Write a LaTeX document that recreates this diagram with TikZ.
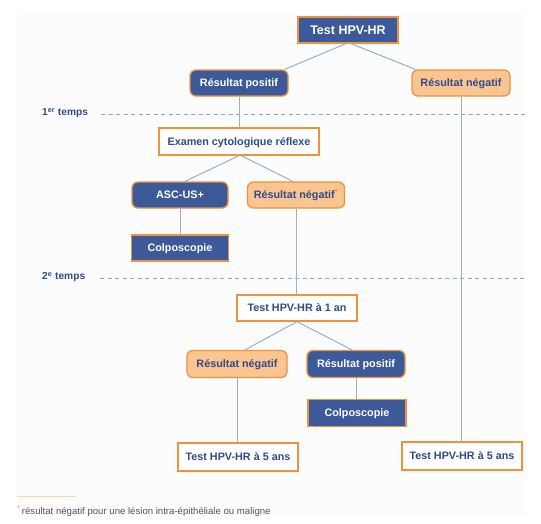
\documentclass[tikz,border=0pt]{standalone}
\usepackage{fontspec}
\setmainfont{Liberation Sans}
\usetikzlibrary{calc}
\definecolor{dblue}{HTML}{3C5A9A}
\definecolor{tblue}{HTML}{2F4C88}
\definecolor{orng}{HTML}{F0923C}
\definecolor{lorng}{HTML}{FBC591}
\definecolor{conn}{HTML}{93B1D1}
\definecolor{dash}{HTML}{8AA8C8}
\definecolor{panel}{HTML}{FCFCFC}
\definecolor{foot}{HTML}{555555}
\begin{document}
\begin{tikzpicture}[x=1pt,y=-1pt,
  base/.style={draw=orng,line width=1.3pt,font=\bfseries\fontsize{10.8}{12}\selectfont,inner sep=0pt,minimum height=26pt,align=center,text height=7.8pt,text depth=0pt},
  blueround/.style={base,fill=dblue,text=white,rounded corners=6pt},
  orround/.style={base,fill=lorng,text=tblue,rounded corners=6pt},
  bluebox/.style={base,fill=dblue,text=white},
  whitebox/.style={base,fill=white,text=tblue},
  link/.style={draw=conn,line width=1pt},
  temps/.style={draw=dash,line width=1pt,dash pattern=on 4pt off 3.5pt},
  tlabel/.style={anchor=west,text=tblue,font=\bfseries\fontsize{10.2}{12}\selectfont,inner sep=0pt}]
\useasboundingbox (0,0) rectangle (541,523);
\fill[panel] (17,14) rectangle (526,515);

% dashed time lines
\node[tlabel] (t1) at (42,113) {1\textsuperscript{er} temps};
\coordinate (t1e) at (526,114);
\draw[temps] ($(t1.east)+(13,1)$) -- (t1e);
\node[tlabel] (t2) at (42,277) {2\textsuperscript{e} temps};
\coordinate (t2e) at (526,278);
\draw[temps] ($(t2.east)+(15,1)$) -- (t2e);

% nodes
\node[bluebox,minimum width=100pt,font=\bfseries\fontsize{12.5}{14}\selectfont,text height=9pt] (top) at (348,30) {Test HPV-HR};
\node[blueround,minimum width=98pt] (pos) at (239,83) {Résultat positif};
\node[orround,minimum width=98pt] (neg) at (461,83) {Résultat négatif};
\node[whitebox,minimum width=160pt,minimum height=27pt] (exam) at (239,141.5) {Examen cytologique réflexe};
\node[blueround,minimum width=96pt] (asc) at (180,195) {ASC-US+};
\node[orround,minimum width=97pt] (negs) at (296,195) {Résultat négatif\textsuperscript{\textcolor{orng}{*}}};
\node[bluebox,minimum width=97pt] (colpo) at (180,248) {Colposcopie};
\node[whitebox,minimum width=120pt] (an1) at (297,308) {Test HPV-HR à 1 an};
\node[orround,minimum width=100pt,minimum height=27pt] (neg2) at (237,364) {Résultat négatif};
\node[blueround,minimum width=98pt,minimum height=27pt] (pos2) at (356,364) {Résultat positif};
\node[bluebox,minimum width=98pt,minimum height=27pt] (colpo2) at (357,413) {Colposcopie};
\node[whitebox,minimum width=120pt,minimum height=28pt] (ans5a) at (238,457) {Test HPV-HR à 5 ans};
\node[whitebox,minimum width=120pt,minimum height=28pt] (ans5b) at (462,456) {Test HPV-HR à 5 ans};

% connectors
\draw[link] ($(top.south)+(-2,0)$) -- ($(pos.north east)+(-4,0)$);
\draw[link] ($(top.south)+(3,0)$) -- ($(neg.north west)+(4,0)$);
\draw[link] (pos.south) -- (exam.north);
\draw[link] (exam.south) -- ($(asc.north)+(5,0)$);
\draw[link] ($(exam.south)+(2,0)$) -- ($(negs.north)+(-3,0)$);
\draw[link] (asc.south) -- (colpo.north);
\draw[link] (negs.south) -- (negs.south |- an1.north);
\draw[link] (an1.south) -- ($(neg2.north)+(8,0)$);
\draw[link] (an1.south) -- ($(pos2.north)+(-4,0)$);
\draw[link] (neg2.south) -- (neg2.south |- ans5a.north);
\draw[link] (pos2.south) -- (pos2.south |- colpo2.north);
\draw[link] (neg.south) -- (neg.south |- ans5b.north);

% footnote
\coordinate (fl1) at (17,496);
\coordinate (fl2) at (76,496);
\draw[draw=lorng!70,line width=0.8pt] (fl1) -- (fl2);
\node[anchor=west,inner sep=0pt,text=foot,font=\fontsize{9.6}{11}\selectfont] (fn) at (17,511) {\textsuperscript{\textcolor{orng}{*}}\,résultat négatif pour une lésion intra-épithéliale ou maligne};
\end{tikzpicture}
\end{document}
